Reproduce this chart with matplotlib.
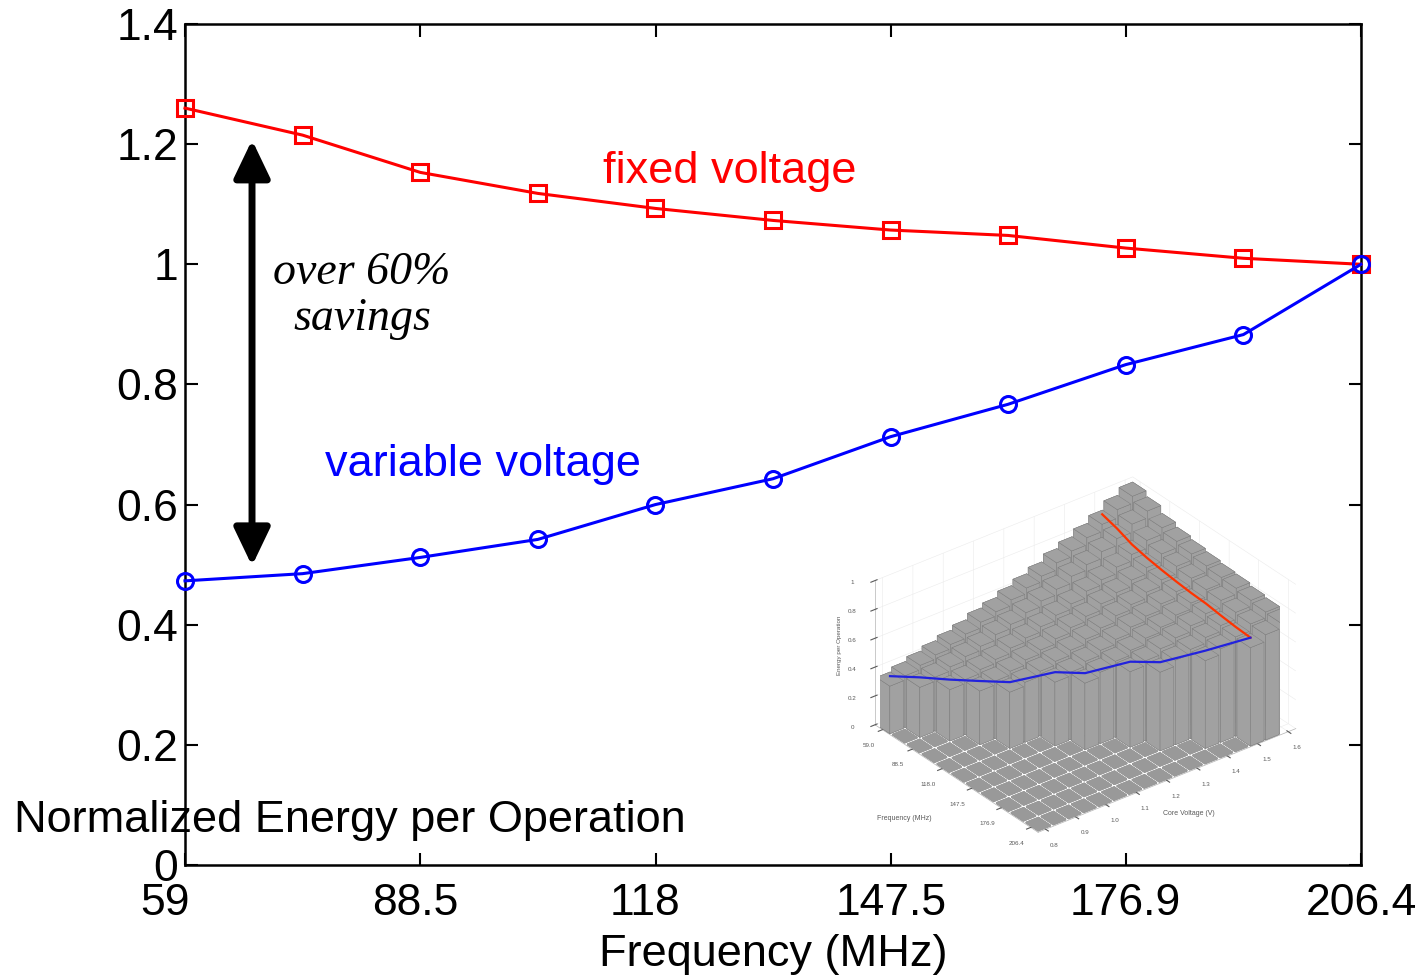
import numpy as np
import matplotlib
matplotlib.use("Agg")
import matplotlib.pyplot as plt
import matplotlib.transforms as mtrans

plt.rcParams["font.family"] = ["Liberation Sans", "DejaVu Sans"]

# main chart data
freq = [59.0, 73.74, 88.48, 103.22, 117.96, 132.7, 147.44, 162.18, 176.92, 191.66, 206.4]
fixed_v = [1.26, 1.215, 1.153, 1.118, 1.093, 1.073, 1.057, 1.048, 1.027, 1.01, 1.0]
variable_v = [0.473, 0.485, 0.512, 0.542, 0.600, 0.643, 0.713, 0.767, 0.833, 0.883, 1.0]
xticks = [59, 88.5, 118, 147.5, 176.9, 206.4]
xtick_labels = ["59", "88.5", "118", "147.5", "176.9", "206.4"]
yticks = [0, 0.2, 0.4, 0.6, 0.8, 1.0, 1.2, 1.4]
ytick_labels = ["0", "0.2", "0.4", "0.6", "0.8", "1", "1.2", "1.4"]

# inset (3d bars) data
core_v = [0.80, 0.85, 0.90, 0.95, 1.00, 1.05, 1.10, 1.15, 1.20,
          1.25, 1.30, 1.35, 1.40, 1.45, 1.50, 1.55, 1.60]
energy_59 = [0.33, 0.36, 0.39, 0.42, 0.45, 0.48, 0.52, 0.55, 0.59,
             0.63, 0.67, 0.72, 0.76, 0.81, 0.86, 0.92, 0.97]
min_v_idx = [0, 1, 2, 3, 4, 6, 7, 9, 10, 12, 14]
fixed_idx = 14
inset_fticks = [59.0, 88.5, 118.0, 147.5, 176.9, 206.4]
inset_vticks = [0.8, 0.9, 1.0, 1.1, 1.2, 1.3, 1.4, 1.5, 1.6]
inset_zticks = [0, 0.2, 0.4, 0.6, 0.8, 1.0]

fig = plt.figure(figsize=(14.25, 9.77), dpi=100)
ax = fig.add_axes([185 / 1425, 1 - 865 / 977, 1176 / 1425, 841 / 977])

ax.plot(freq, fixed_v, color="red", lw=2.2, marker="s", ms=11.5,
        mfc="none", mec="red", mew=2.2, zorder=3, clip_on=False)
ax.plot(freq, variable_v, color="blue", lw=2.2, marker="o", ms=11.5,
        mfc="none", mec="blue", mew=2.2, zorder=4, clip_on=False)

ax.set_xlim(59, 206.4)
ax.set_ylim(0, 1.4)
ax.set_xticks(xticks)
ax.set_xticklabels(xtick_labels)
ax.set_yticks(yticks)
ax.set_yticklabels(ytick_labels)
ax.tick_params(direction="in", top=True, right=True, length=9, width=1.5,
               labelsize=32)
ax.tick_params(axis="x", pad=13)
ax.tick_params(axis="y", pad=5)
for s in ax.spines.values():
    s.set_linewidth(1.8)
ax.set_xlabel("Frequency (MHz)", fontsize=32.5, labelpad=7)

# the original labels sit a little left of some ticks
shifts = {"59": -0.20, "88.5": -0.05, "118": -0.11}
for lab in ax.get_xticklabels():
    dx = shifts.get(lab.get_text(), 0)
    if dx:
        lab.set_transform(lab.get_transform() +
                          mtrans.ScaledTranslation(dx, 0, fig.dpi_scale_trans))

fig.text(14 / 1425, 1 - 832 / 977, "Normalized Energy per Operation",
         fontsize=32.5, ha="left", va="baseline")

ax.text(111.4, 1.135, "fixed voltage", color="red", fontsize=32.5,
        ha="left", va="baseline")
ax.text(76.6, 0.648, "variable voltage", color="blue", fontsize=32.5,
        ha="left", va="baseline")
ax.text(81.2, 0.968, "over 60%", fontsize=33, family="Liberation Serif",
        style="italic", ha="center", va="baseline")
ax.text(81.2, 0.89, "savings", fontsize=33, family="Liberation Serif",
        style="italic", ha="center", va="baseline")
ax.annotate("", xy=(67.4, 1.207), xytext=(67.4, 0.498),
            arrowprops=dict(arrowstyle="<|-|>,head_length=1.15,head_width=0.55",
                            lw=5, color="black", shrinkA=0, shrinkB=0,
                            mutation_scale=20))

# inset 3d bar chart
plt.rcParams["grid.color"] = "0.92"
plt.rcParams["grid.linewidth"] = 0.4
ax3 = fig.add_axes([820 / 1425, 1 - 860 / 977, 520 / 1425, 400 / 977],
                   projection="3d", computed_zorder=False)
ax3.set_facecolor("none")
ax3.set_proj_type("ortho")
ax3.view_init(elev=31, azim=-38)
ax3.set_box_aspect((781, 964, 496), zoom=1.1)

df = 14.74
dv = 0.05
bx, by, bh, fx, fy = [], [], [], [], []
for i, f in enumerate(freq):
    for j, v in enumerate(core_v):
        if j >= min_v_idx[i]:
            bx.append(f)
            by.append(v)
            bh.append(energy_59[j] * fixed_v[i] / fixed_v[0])
        else:
            fx.append(f)
            fy.append(v)
fx, fy = np.array(fx), np.array(fy)
bx, by, bh = np.array(bx), np.array(by), np.array(bh)
ax3.bar3d(fx - df * 0.4, fy - dv * 0.4, np.zeros(len(fx)), df * 0.8, dv * 0.8,
          np.full(len(fx), 0.004), color="0.6", edgecolor="0.6", shade=False)
ax3.bar3d(bx - df * 0.45, by - dv * 0.45, np.zeros(len(bx)), df * 0.9, dv * 0.9,
          bh, color="0.63", edgecolor="0.48", linewidth=0.3, shade=False)

red_z = [energy_59[fixed_idx] * fixed_v[i] / fixed_v[0] + 0.02 for i in range(len(freq))]
ax3.plot(freq, [core_v[fixed_idx]] * len(freq), red_z, color="#ff3300", lw=1.6)
blue_y = [core_v[k] for k in min_v_idx]
blue_z = [energy_59[k] * fixed_v[i] / fixed_v[0] + 0.02 for i, k in enumerate(min_v_idx)]
ax3.plot(freq, blue_y, blue_z, color="#2222dd", lw=1.6)

ax3.set_xlim(59 - df / 2, 206.4 + df / 2)
ax3.set_ylim(0.775, 1.625)
ax3.set_zlim(0, 1)
ax3.set_xticks(inset_fticks)
ax3.set_xticklabels(["%.1f" % t for t in inset_fticks])
ax3.set_yticks(inset_vticks)
ax3.set_yticklabels(["%.1f" % t for t in inset_vticks])
ax3.set_zticks(inset_zticks)
ax3.set_zticklabels(["0", "0.2", "0.4", "0.6", "0.8", "1"])
ax3.zaxis.set_ticks_position("lower")
ax3.tick_params(labelsize=4.5, colors="0.35", pad=0)
for a in (ax3.xaxis, ax3.yaxis, ax3.zaxis):
    a.set_pane_color((1, 1, 1, 0))
    a.line.set_color("0.7")
    a.line.set_linewidth(0.5)
fig.text(877 / 1425, 1 - 820 / 977, "Frequency (MHz)", fontsize=5,
         color="0.35", ha="left", va="baseline")
fig.text(1163 / 1425, 1 - 815 / 977, "Core Voltage (V)", fontsize=5,
         color="0.35", ha="left", va="baseline")
fig.text(840 / 1425, 1 - 645 / 977, "Energy per Operation", fontsize=4.5,
         color="0.35", rotation=90, ha="center", va="center")

fig.savefig("out.png", dpi=100)
